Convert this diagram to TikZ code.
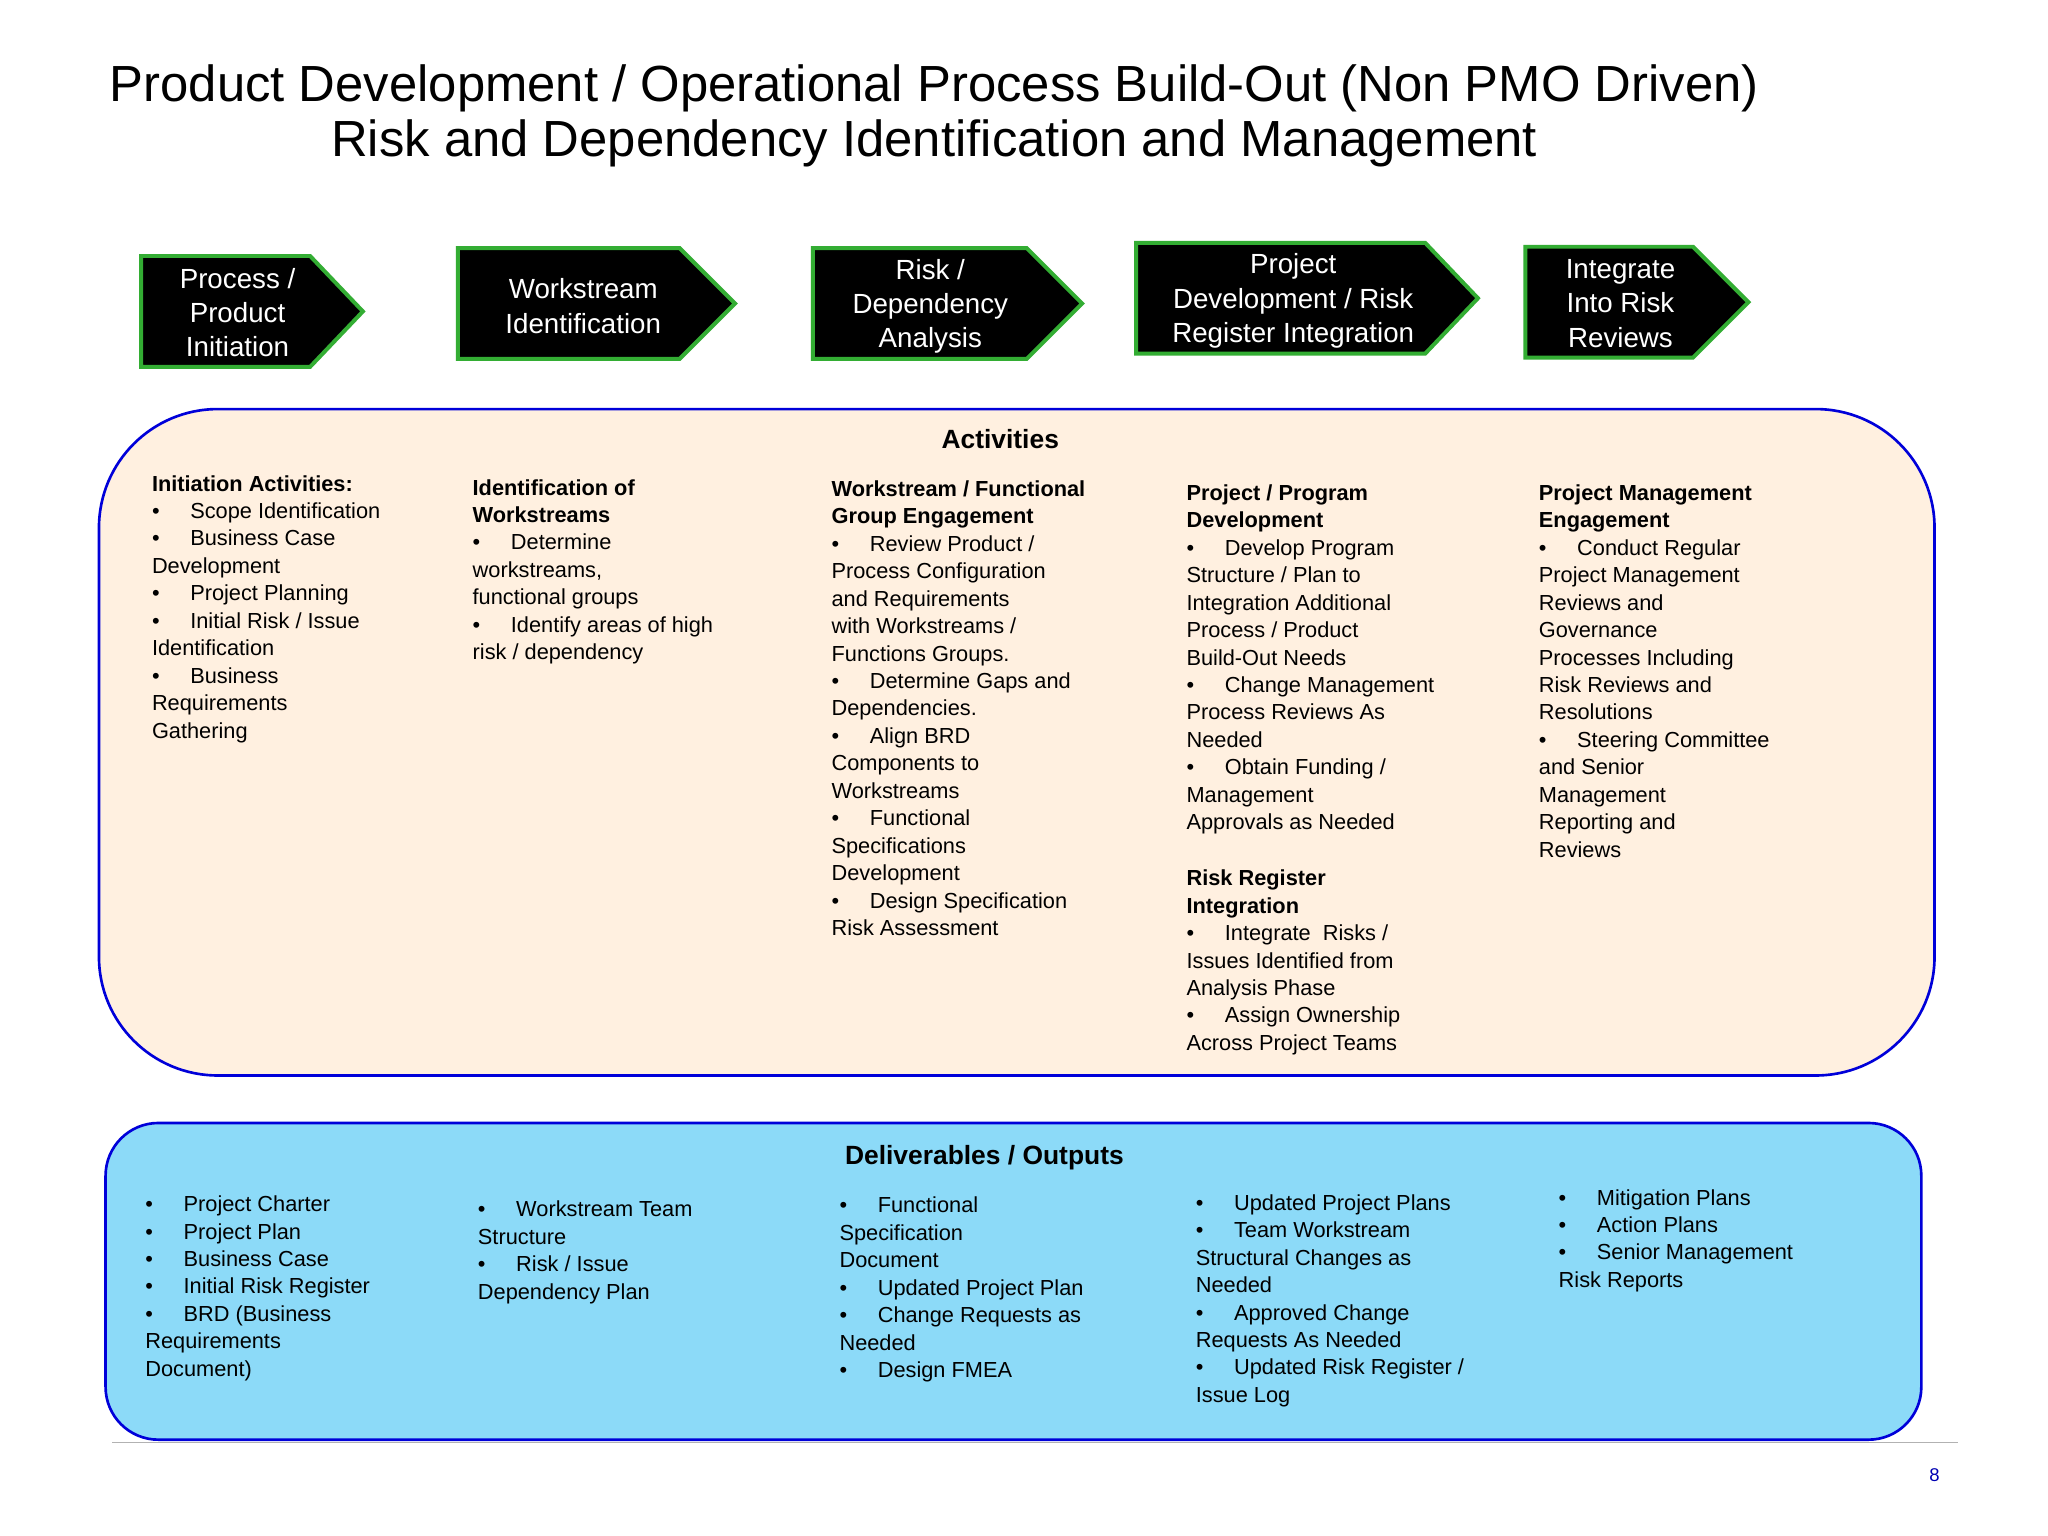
\documentclass[tikz,border=0pt]{standalone}
\usepackage{fontspec}
\setmainfont{Liberation Sans}
\newcommand{\bi}[1]{\par\hangindent=29pt\hangafter=1\noindent\makebox[29pt][l]{\textbullet}#1\par}
\newcommand{\hd}[1]{\par\noindent\textbf{#1}\par}
\newenvironment{colbox}{\begin{minipage}[t]{280pt}\raggedright\parindent=0pt}{\end{minipage}}
\begin{document}
\begin{tikzpicture}[x=1pt,y=-1pt,
  arrowbox/.style={fill=black,draw=green!60!black!80,line width=3pt,line join=miter},
  atext/.style={text=white,font=\fontsize{21}{26}\selectfont,align=center},
  col/.style={anchor=north west,inner sep=0pt,font=\fontsize{16.5}{20.8}\selectfont},
  hdr/.style={font=\fontsize{20}{24}\selectfont\bfseries}]
\useasboundingbox (0,0) rectangle (1552,1164);
\fill[white] (0,0) rectangle (1552,1164);
\node[font=\fontsize{38.5}{42}\selectfont,align=center] (title) at (708,88) {Product Development / Operational Process Build-Out (Non PMO Driven)\\Risk and Dependency Identification and Management};
% arrows
\draw[arrowbox] (107,194) -- (235,194) -- (275,236) -- (235,278) -- (107,278) -- cycle;
\node[atext] (a1) at (180,237) {Process /\\Product\\Initiation};
\draw[arrowbox] (347,188) -- (515,188) -- (557,230) -- (515,272) -- (347,272) -- cycle;
\node[atext] (a2) at (442,232) {Workstream\\Identification};
\draw[arrowbox] (616,188) -- (778,188) -- (820,230) -- (778,272) -- (616,272) -- cycle;
\node[atext] (a3) at (705,232) {Risk /\\Dependency\\Analysis};
\draw[arrowbox] (861,184) -- (1080,184) -- (1120,226) -- (1080,268) -- (861,268) -- cycle;
\node[atext] (a4) at (980,228) {Project\\Development / Risk\\Register Integration};
\draw[arrowbox] (1156,187) -- (1283,187) -- (1325,229) -- (1283,271) -- (1156,271) -- cycle;
\node[atext] (a5) at (1228,230) {Integrate\\Into Risk\\Reviews};
% panels
\draw[fill=orange!12,draw=blue!85!black,line width=2pt,rounded corners=90pt] (75,310) rectangle (1466,815);
\node[hdr] (act) at (758,333) {Activities};
\draw[fill=cyan!45,draw=blue!85!black,line width=2pt,rounded corners=40pt] (80,851) rectangle (1456,1091);
\node[hdr] (del) at (746,877) {Deliverables / Outputs};
\draw[gray!60,line width=0.8pt] (85,1093) -- (1484,1093);
\node[text=blue!70!black,font=\fontsize{14}{16}\selectfont] (pg) at (1466,1118) {8};
% activity columns
\node[col] (c1) at (115,360) {\begin{colbox}\hd{Initiation Activities:}
\bi{Scope Identification}\bi{Business Case\\Development}\bi{Project Planning}\bi{Initial Risk / Issue\\Identification}\bi{Business\\Requirements\\Gathering}\end{colbox}};
\node[col] (c2) at (358,363) {\begin{colbox}\hd{Identification of\\Workstreams}
\bi{Determine\\workstreams,\\functional groups}\bi{Identify areas of high\\risk / dependency}\end{colbox}};
\node[col] (c3) at (630,364) {\begin{colbox}\hd{Workstream / Functional\\Group Engagement}
\bi{Review Product /\\Process Configuration\\and Requirements\\with Workstreams /\\Functions Groups.}\bi{Determine Gaps and\\Dependencies.}\bi{Align BRD\\Components to\\Workstreams}\bi{Functional\\Specifications\\Development}\bi{Design Specification\\Risk Assessment}\end{colbox}};
\node[col] (c4) at (899,367) {\begin{colbox}\hd{Project / Program\\Development}
\bi{Develop Program\\Structure / Plan to\\Integration Additional\\Process / Product\\Build-Out Needs}\bi{Change Management\\Process Reviews As\\Needed}\bi{Obtain Funding /\\Management\\Approvals as Needed}\end{colbox}};
\node[col] (c4b) at (899,659) {\begin{colbox}\hd{Risk Register\\Integration}
\bi{Integrate\ \ Risks /\\Issues Identified from\\Analysis Phase}\bi{Assign Ownership\\Across Project Teams}\end{colbox}};
\node[col] (c5) at (1166,367) {\begin{colbox}\hd{Project Management\\Engagement}
\bi{Conduct Regular\\Project Management\\Reviews and\\Governance\\Processes Including\\Risk Reviews and\\Resolutions}\bi{Steering Committee\\and Senior\\Management\\Reporting and\\Reviews}\end{colbox}};
% deliverables
\node[col] (d1) at (110,906) {\begin{colbox}\bi{Project Charter}\bi{Project Plan}\bi{Business Case}\bi{Initial Risk Register}\bi{BRD (Business\\Requirements\\Document)}\end{colbox}};
\node[col] (d2) at (362,910) {\begin{colbox}\bi{Workstream Team\\Structure}\bi{Risk / Issue\\Dependency Plan}\end{colbox}};
\node[col] (d3) at (636,907) {\begin{colbox}\bi{Functional\\Specification\\Document}\bi{Updated Project Plan}\bi{Change Requests as\\Needed}\bi{Design FMEA}\end{colbox}};
\node[col] (d4) at (906,905) {\begin{colbox}\bi{Updated Project Plans}\bi{Team Workstream\\Structural Changes as\\Needed}\bi{Approved Change\\Requests As Needed}\bi{Updated Risk Register /\\Issue Log}\end{colbox}};
\node[col] (d5) at (1181,901) {\begin{colbox}\bi{Mitigation Plans}\bi{Action Plans}\bi{Senior Management\\Risk Reports}\end{colbox}};
\end{tikzpicture}
\end{document}
